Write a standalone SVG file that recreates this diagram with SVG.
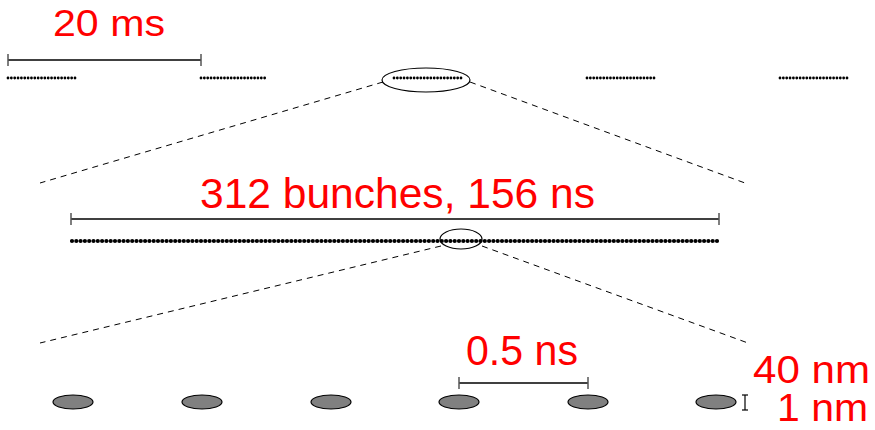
<svg xmlns="http://www.w3.org/2000/svg" width="875" height="430" viewBox="0 0 875 430">
<style>
.lbl{font-family:"Liberation Sans",Arial,sans-serif;fill:#ff0000;}
.bar{stroke:#000;stroke-width:1.3;fill:none;}
.tick{stroke:#555;stroke-width:1.5;}
.dash{stroke:#000;stroke-width:1;stroke-dasharray:6 5;fill:none;}
.train{stroke:#000;stroke-width:2.8;stroke-linecap:round;stroke-dasharray:0 3.35;fill:none;}
.fine{stroke:#000;stroke-width:4.2;stroke-linecap:round;stroke-dasharray:0 4.3;fill:none;}
.zoom{fill:none;stroke:#000;stroke-width:1.2;}
.bunch{fill:#808080;stroke:#000;stroke-width:1.2;}
</style>
<rect width="875" height="430" fill="#fff"/>
<g id="connectors">
<path class="dash" d="M383 82 L40 183"/>
<path class="dash" d="M470 82 L745 183"/>
<path class="dash" d="M441 246 L40 343"/>
<path class="dash" d="M482 246 L748 343"/>
</g>
<g id="scale-20ms">
<text class="lbl" x="53" y="36" font-size="36" textLength="112" lengthAdjust="spacingAndGlyphs">20 ms</text>
<line class="bar" x1="8" y1="60" x2="201" y2="60"/>
<line class="tick" x1="8" y1="54" x2="8" y2="66"/>
<line class="tick" x1="201" y1="54" x2="201" y2="66"/>
</g>
<g id="trains">
<line class="train" x1="8" y1="78" x2="75" y2="78"/>
<line class="train" x1="201" y1="78" x2="268" y2="78"/>
<line class="train" x1="394" y1="78" x2="461" y2="78"/>
<line class="train" x1="587" y1="78" x2="654" y2="78"/>
<line class="train" x1="780" y1="78" x2="847" y2="78"/>
</g>
<g id="zoom-top"><ellipse class="zoom" cx="426" cy="80" rx="44" ry="12"/></g>
<g id="scale-156ns">
<text class="lbl" x="200" y="208" font-size="42" textLength="395" lengthAdjust="spacingAndGlyphs">312 bunches, 156 ns</text>
<line class="bar" x1="71" y1="219" x2="719" y2="219"/>
<line class="tick" x1="71" y1="213" x2="71" y2="225"/>
<line class="tick" x1="719" y1="213" x2="719" y2="225"/>
</g>
<g id="bunch-train"><line class="fine" x1="72" y1="241" x2="718" y2="241"/></g>
<g id="zoom-mid"><ellipse class="zoom" cx="461" cy="239" rx="21" ry="10"/></g>
<g id="scale-05ns">
<text class="lbl" x="466" y="365" font-size="42" textLength="112" lengthAdjust="spacingAndGlyphs">0.5 ns</text>
<line class="bar" x1="459" y1="383" x2="588" y2="383"/>
<line class="tick" x1="459" y1="377" x2="459" y2="389"/>
<line class="tick" x1="588" y1="377" x2="588" y2="389"/>
</g>
<g id="bunches">
<ellipse class="bunch" cx="73" cy="402" rx="20" ry="7"/>
<ellipse class="bunch" cx="202" cy="402" rx="20" ry="7"/>
<ellipse class="bunch" cx="331" cy="402" rx="20" ry="7"/>
<ellipse class="bunch" cx="459" cy="402" rx="20" ry="7"/>
<ellipse class="bunch" cx="588" cy="402" rx="20" ry="7"/>
<ellipse class="bunch" cx="716" cy="402" rx="20" ry="7"/>
</g>
<g id="size-labels">
<line x1="745" y1="395" x2="745" y2="410" stroke="#000" stroke-width="1.2"/>
<line x1="742" y1="395" x2="748" y2="395" stroke="#000" stroke-width="1.2"/>
<line x1="742" y1="410" x2="748" y2="410" stroke="#000" stroke-width="1.2"/>
<text class="lbl" x="753" y="383" font-size="38" textLength="117" lengthAdjust="spacingAndGlyphs">40 nm</text>
<text class="lbl" x="777" y="421" font-size="38" textLength="91" lengthAdjust="spacingAndGlyphs">1 nm</text>
</g>
</svg>
